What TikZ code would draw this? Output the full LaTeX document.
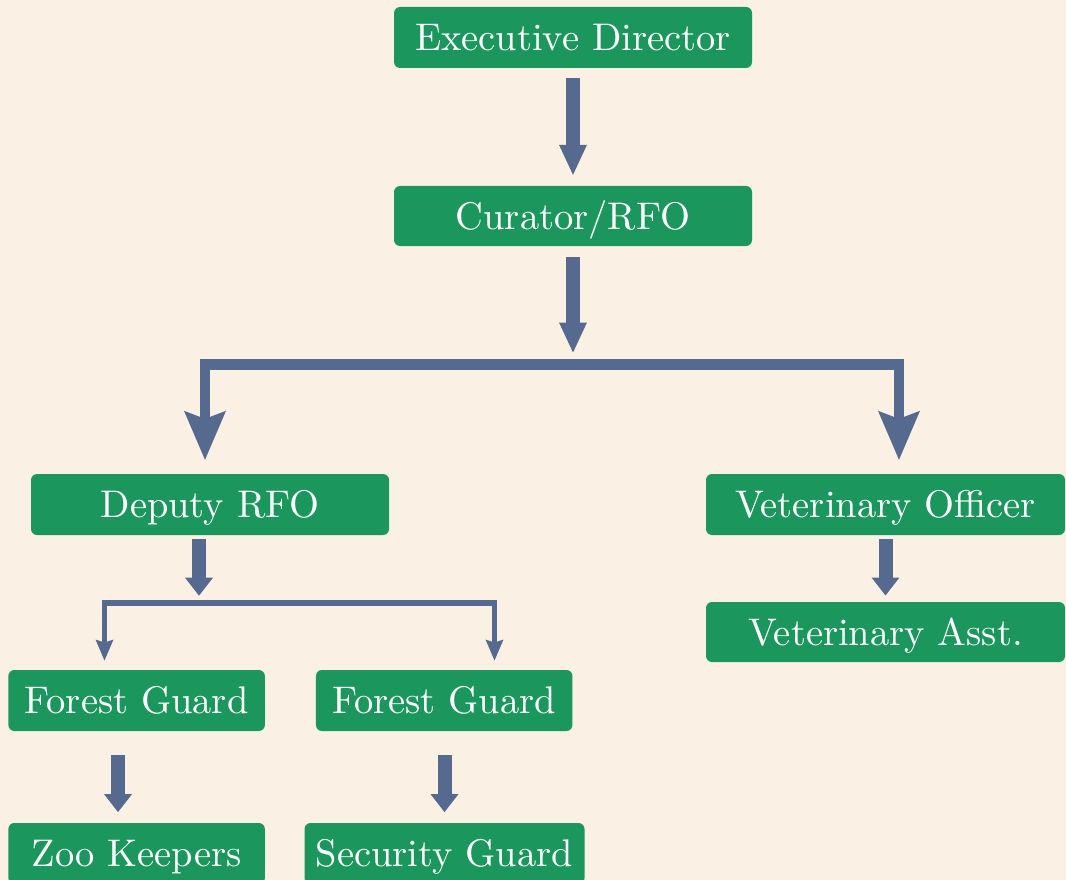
\documentclass[tikz,border=0pt]{standalone}
\usepackage{graphicx}
\usetikzlibrary{arrows.meta,calc}
\definecolor{bgc}{RGB}{251,240,228}
\definecolor{boxg}{RGB}{27,151,94}
\definecolor{arrc}{RGB}{86,106,143}
\newcommand{\boxtxt}[1]{\scalebox{3.85}{\fontsize{10}{12}\selectfont #1}}
\begin{document}
\begin{tikzpicture}[x=1pt,y=-1pt,
  box/.style={rectangle,rounded corners=6pt,fill=boxg,text=white,inner sep=0pt,
    text height=26.3pt,text depth=0pt},
  bigarr/.style={draw=arrc,line width=14pt,-{Triangle[width=28pt,length=30pt,line width=0pt]}},
  medarr/.style={draw=arrc,line width=14pt,-{Triangle[width=28pt,length=18pt,line width=0pt]}},
  bigL/.style={draw=arrc,line width=10.5pt,line join=miter,-{Stealth[width=42pt,length=49pt,inset=8pt,line width=0pt]}},
  smallL/.style={draw=arrc,line width=5.7pt,line join=miter,-{Stealth[width=18pt,length=21pt,inset=3pt,line width=0pt]}}]
\useasboundingbox (0,0) rectangle (1066,880);
\fill[bgc] (0,0) rectangle (1066,880);
\begin{scope}
\clip (0,0) rectangle (1066,880);
\node[box,minimum width=358pt,minimum height=61pt] (ED) at (573,37.5) {\boxtxt{Executive Director}};
\node[box,minimum width=358pt,minimum height=60pt] (CU) at (573,216) {\boxtxt{Curator/RFO}};
\node[box,minimum width=358pt,minimum height=61pt] (DR) at (210,504.5) {\boxtxt{Deputy RFO}};
\node[box,minimum width=359pt,minimum height=61pt] (VO) at (885.5,504.5) {\boxtxt{Veterinary Officer}};
\node[box,minimum width=359pt,minimum height=60pt] (VA) at (885.5,632) {\boxtxt{Veterinary Asst.}};
\node[box,minimum width=256.5pt,minimum height=61pt] (FG1) at (136.6,700.5) {\boxtxt{Forest Guard}};
\node[box,minimum width=256.5pt,minimum height=61pt] (FG2) at (444.2,700.5) {\boxtxt{Forest Guard}};
\node[box,minimum width=256.5pt,minimum height=61pt] (ZK) at (136.6,853.5) {\boxtxt{Zoo Keepers}};
\node[box,minimum width=280pt,minimum height=61pt] (SG) at (444.5,853.5) {\boxtxt{Security Guard}};
\end{scope}
\coordinate (j1) at (573,364.5);
\coordinate (j2) at (199,603);
% straight arrows
\draw[bigarr] ($(ED.south)+(0,10)$) -- ($(CU.north)+(0,-11)$);
\draw[bigarr] ($(CU.south)+(0,11)$) -- ($(j1)+(0,-12)$);
\draw[medarr] ($(DR.south)+(-11,4)$) -- ($(j2)+(0,-7.3)$);
\draw[medarr] ($(VO.south)+(0,4)$) -- ($(VA.north)+(0,-6.3)$);
\draw[medarr] ($(FG1.south)+(-18.6,24)$) -- ($(ZK.north)+(-18.6,-10.7)$);
\draw[medarr] ($(FG2.south)+(0.3,24)$) -- ($(SG.north)+(0,-10.7)$);
% branching arrows
\draw[bigL] (j1) -| ($(DR.north)+(-5,-14)$);
\draw[bigL] (j1) -| ($(VO.north)+(13.5,-14)$);
\draw[smallL] (j2) -| ($(FG1.north)+(-32.1,-9.3)$);
\draw[smallL] (j2) -| ($(FG2.north)+(50.3,-9.3)$);
\end{tikzpicture}
\end{document}
